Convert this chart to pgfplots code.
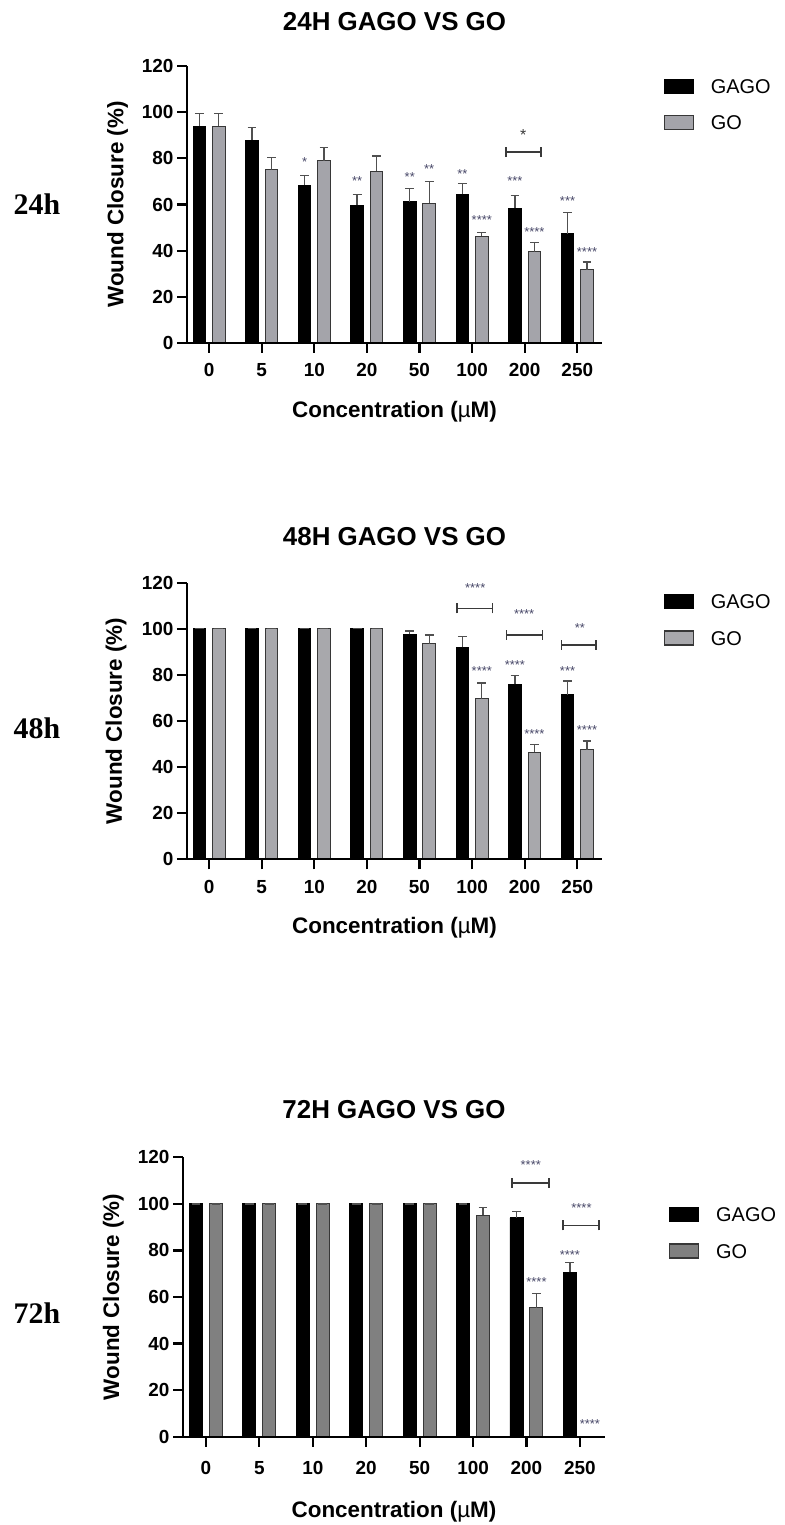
\documentclass[border=0pt]{standalone}
\usepackage{pgfplots}
\pgfplotsset{compat=1.18}
\usepackage{pgfplotstable}
\usepackage{fontspec}
\setmainfont{Liberation Sans}
\newfontfamily\timesfont{Liberation Serif}

\definecolor{goA}{RGB}{164,164,170}
\definecolor{goB}{RGB}{168,168,172}
\definecolor{goC}{RGB}{128,128,128}
\definecolor{goedge}{RGB}{55,55,55}
\definecolor{errc}{RGB}{80,80,80}
\definecolor{starc}{RGB}{72,72,104}
\definecolor{brk}{RGB}{58,58,58}

% x = concentration index, g = GAGO mean, ge = GAGO SD, o = GO mean, oe = GO SD
\pgfplotstableread{
x g    ge  o    oe
0 94.0 5.5 94.0 5.5
1 87.9 5.5 75.0 5.5
2 68.4 4.3 78.9 5.8
3 59.6 4.6 74.5 6.5
4 61.2 5.6 60.6 9.4
5 64.5 4.6 46.3 1.6
6 58.4 5.5 39.5 3.9
7 47.4 9.0 31.8 3.3
}\tabA
\pgfplotstableread{
x g     ge  o    oe
0 100.0 0.0 100.0 0.0
1 100.0 0.0 100.0 0.0
2 100.0 0.0 100.0 0.0
3 100.0 0.0 100.0 0.0
4 97.6  1.4 93.5 3.8
5 91.9  4.8 69.7 6.8
6 75.9  3.8 46.4 3.3
7 71.4  5.9 47.6 3.7
}\tabB
\pgfplotstableread{
x g     ge  o     oe
0 100.0 0.0 100.0 0.0
1 100.0 0.0 100.0 0.0
2 100.0 0.0 100.0 0.0
3 100.0 0.0 100.0 0.0
4 100.0 0.0 100.0 0.0
5 100.0 0.0 95.1  3.3
6 94.0  2.7 55.3  6.2
7 70.6  4.3 0.0   0.0
}\tabC

\newcommand{\tickfont}{\fontsize{19}{19}\selectfont\bfseries}
\newcommand{\labfont}{\fontsize{22.5}{24}\selectfont\bfseries}
\newcommand{\titfont}{\fontsize{26}{28}\selectfont\bfseries}
\newcommand{\legfont}{\fontsize{20}{20}\selectfont}
\newcommand{\starfont}{\fontsize{13}{13}\selectfont}

\pgfplotsset{
  every axis title shift=0pt,
  wound/.style={
    scale only axis,
    ymin=0, ymax=120, ytick={0,20,...,120},
    xtick={0,...,7}, xticklabels={0,5,10,20,50,100,200,250},
    axis x line*=bottom, axis y line*=left,
    axis line style={line width=2.2bp, black},
    major tick style={line width=2.2bp, black},
    major tick length=10bp, tick align=outside,
    /pgf/number format/assume math mode=true,
    tick label style={font=\tickfont},
    xticklabel style={text height=13.6bp, text depth=0bp},
    label style={font=\labfont},
    title style={font=\titfont, anchor=center},
    axis on top,
    clip=false,
    ybar, bar width=12.5bp,
    legend style={draw=none, fill=none, inner sep=0pt, outer sep=0pt,
      anchor=north west, font=\legfont, row sep=20bp,
      nodes={inner sep=0pt}},
    legend cell align=left,
  },
  gagobar/.style={fill=black, draw=black, line width=0.8bp,
    legend image code/.code={\draw[fill=black,draw=black] (0bp,-6bp) rectangle (29bp,8bp);
      \path (46bp,0bp);}},
  gobar/.style={fill=#1, draw=goedge, line width=1bp,
    legend image code/.code={\draw[fill=#1,draw=goedge,line width=1.2bp] (0bp,-6bp) rectangle (29bp,8bp);
      \path (46bp,0bp);}},
  sd/.style={error bars/.cd, y dir=plus, y explicit,
    error bar style={line width=1.3bp, errc},
    error mark options={rotate=90, mark size=4.4bp, line width=1.3bp, errc}},
}

% significance stars above a bar
\newcommand{\stars}[3]{\node[font=\starfont, text=starc, inner sep=0pt, yshift=-3bp] at (axis cs:#1,#2) {#3};}
% comparison bracket with end ticks
\newcommand{\sigbracket}[3]{\draw[brk, line width=1.5bp]
  ([yshift=-5bp]axis cs:#1,#3) -- ([yshift=5bp]axis cs:#1,#3)
  (axis cs:#1,#3) -- (axis cs:#2,#3)
  ([yshift=-5bp]axis cs:#2,#3) -- ([yshift=5bp]axis cs:#2,#3);}

\begin{document}
\begin{tikzpicture}
\useasboundingbox (0,0) rectangle (785bp,1525bp);

\node[font=\timesfont\bfseries\fontsize{30}{30}\selectfont] at (37bp,1321bp) {24h};
\node[font=\timesfont\bfseries\fontsize{30}{30}\selectfont] at (37bp,797bp) {48h};
\node[font=\timesfont\bfseries\fontsize{30}{30}\selectfont] at (37bp,212bp) {72h};

% ---------------- 24 h ----------------
\begin{axis}[wound,
  at={(187bp,1182bp)}, anchor=south west,
  width=415bp, height=277bp,
  xmin=-0.42, xmax=7.47,
  xticklabel style={yshift=-6.5bp},
  title={24H GAGO VS GO},
  title style={at={(axis description cs:0.5,1.159)}},
  xlabel={Concentration ({\mdseries µ}M)},
  xlabel style={at={(axis description cs:0.5,-0.249)}, anchor=center},
  ylabel={Wound Closure (\%)},
  ylabel style={at={(axis description cs:-0.167,0.5)}, anchor=center},
  legend style={at={(axis description cs:1.149,0.954)}},
]
\addplot[gagobar, bar shift=-9.75bp, sd] table[x=x, y=g, y error=ge] {\tabA};
\addplot[gobar=goA, bar shift=9.75bp, sd] table[x=x, y=o, y error=oe] {\tabA};
\legend{GAGO, GO}
\stars{1.815}{79.5}{*}
\stars{2.815}{71.4}{**}
\stars{3.815}{73.4}{**}
\stars{4.185}{76.8}{**}
\stars{4.815}{74.5}{**}
\stars{5.185}{54.6}{****}
\stars{5.815}{71.4}{***}
\stars{6.185}{49.4}{****}
\stars{6.815}{63.0}{***}
\stars{7.185}{40.6}{****}
\sigbracket{5.64}{6.31}{82.7}
\node[font=\fontsize{16}{16}\selectfont, text=brk, inner sep=0pt, yshift=-4bp] at (axis cs:5.97,92) {*};
\end{axis}

% ---------------- 48 h ----------------
\begin{axis}[wound,
  at={(187bp,665.7bp)}, anchor=south west,
  width=415bp, height=276.6bp,
  xmin=-0.42, xmax=7.47,
  xticklabel style={yshift=-7.5bp},
  title={48H GAGO VS GO},
  title style={at={(axis description cs:0.5,1.165)}},
  xlabel={Concentration ({\mdseries µ}M)},
  xlabel style={at={(axis description cs:0.5,-0.246)}, anchor=center},
  ylabel={Wound Closure (\%)},
  ylabel style={at={(axis description cs:-0.171,0.5)}, anchor=center},
  legend style={at={(axis description cs:1.149,0.958)}},
]
\addplot[gagobar, bar shift=-9.75bp, sd] table[x=x, y=g, y error=ge] {\tabB};
\addplot[gobar=goB, bar shift=9.75bp, sd] table[x=x, y=o, y error=oe] {\tabB};
\legend{GAGO, GO}
\stars{5.185}{83.1}{****}
\stars{5.815}{85.7}{****}
\stars{6.185}{55.8}{****}
\stars{6.815}{83.1}{***}
\stars{7.185}{57.4}{****}
\sigbracket{4.71}{5.39}{108.9}
\stars{5.06}{119}{****}
\sigbracket{5.65}{6.34}{97.4}
\stars{5.99}{107.8}{****}
\sigbracket{6.70}{7.36}{93.0}
\stars{7.05}{101.6}{**}
\end{axis}

% ---------------- 72 h ----------------
\begin{axis}[wound,
  at={(183bp,88.3bp)}, anchor=south west,
  width=422bp, height=279.4bp,
  xmin=-0.43, xmax=7.47,
  xticklabel style={yshift=-11bp},
  bar width=13bp,
  title={72H GAGO VS GO},
  title style={at={(axis description cs:0.5,1.169)}},
  xlabel={Concentration ({\mdseries µ}M)},
  xlabel style={at={(axis description cs:0.5,-0.27)}, anchor=center},
  ylabel={Wound Closure (\%)},
  ylabel style={at={(axis description cs:-0.165,0.5)}, anchor=center},
  legend style={at={(axis description cs:1.152,0.821)}},
]
\addplot[gagobar, bar shift=-10bp, sd] table[x=x, y=g, y error=ge] {\tabC};
\addplot[gobar=goC, bar shift=10bp, sd] table[x=x, y=o, y error=oe] {\tabC};
\legend{GAGO, GO}
\stars{6.813}{79.5}{****}
\stars{6.187}{67.6}{****}
\stars{7.187}{6.7}{****}
\sigbracket{5.73}{6.42}{109}
\stars{6.08}{118}{****}
\sigbracket{6.68}{7.36}{90.8}
\stars{7.03}{99.5}{****}
\end{axis}
\end{tikzpicture}
\end{document}
